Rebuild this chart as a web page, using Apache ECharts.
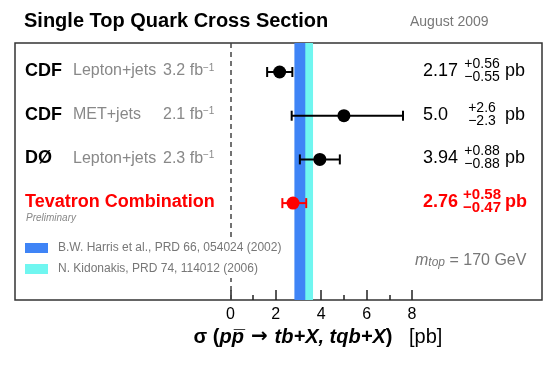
<!DOCTYPE html>
<html>
<head>
<meta charset="utf-8">
<script src="https://cdn.jsdelivr.net/npm/echarts@6/dist/echarts.min.js"></script>
<style>
  html, body { margin: 0; padding: 0; background: #fff; }
  #main { width: 556px; height: 365px; }
</style>
</head>
<body>
<div id="main"></div>
<script>
const FONT = 'Liberation Sans, Arial, Helvetica, sans-serif';

// measurements, top to bottom
const rowNames = ['CDF', 'CDF', 'DØ', 'Tevatron Combination'];
const channels = ['Lepton+jets', 'MET+jets', 'Lepton+jets', null];
const lumis = ['3.2', '2.1', '2.3', null];
const xsec = [2.17, 5.0, 3.94, 2.76];
const errUp = [0.56, 2.6, 0.88, 0.58];
const errDown = [0.55, 2.3, 0.88, 0.47];
const valueText = ['2.17', '5.0', '3.94', '2.76'];
const upText = ['+0.56', '+2.6', '+0.88', '+0.58'];
const downText = ['\u22120.55', '\u22122.3', '\u22120.88', '\u22120.47'];

// theory predictions (x ranges in pb)
const theoryNames = ['N. Kidonakis, PRD 74, 114012 (2006)', 'B.W. Harris et al., PRD 66, 054024 (2002)'];
const theoryLo = [3.0, 2.82];
const theoryHi = [3.64, 3.30];
const theoryColors = ['#70f6f0', '#3f84f6'];

const xTicks = [0, 2, 4, 6, 8];
const xMinorTicks = [1, 3, 5, 7];

const combined = 3; // index of the combination row
const rowColor = (i) => (i === combined ? '#ff0000' : '#000');

const chart = echarts.init(document.getElementById('main'), null, { renderer: 'canvas' });

const xMin = -9.48, xMax = 13.72;
const gridBox = { left: 15, right: 14, top: 43, bottom: 65 };

function axisX(gridIndex, ticks, len, labels) {
  return {
    type: 'value',
    gridIndex: gridIndex,
    min: xMin,
    max: xMax,
    position: 'bottom',
    axisLine: { show: false, onZero: false },
    splitLine: { show: false },
    axisTick: {
      show: true,
      inside: true,
      length: len,
      customValues: ticks,
      lineStyle: { color: '#222', width: 1.5 },
    },
    axisLabel: {
      show: labels,
      customValues: ticks,
      margin: 7,
      color: '#000',
      fontSize: 16,
      fontFamily: FONT,
    },
  };
}

const option = {
  animation: false,
  backgroundColor: '#fff',
  grid: [
    Object.assign({
      show: true,
      borderColor: '#333',
      borderWidth: 1.5,
      backgroundColor: 'transparent',
    }, gridBox),
    // twin grid only for the minor ticks
    Object.assign({ show: false }, gridBox),
  ],
  xAxis: [axisX(0, xTicks, 10, true), axisX(1, xMinorTicks, 5, false)],
  yAxis: [
    { type: 'value', gridIndex: 0, inverse: true, min: -0.664, max: 5.217, show: false },
    { type: 'value', gridIndex: 1, inverse: true, min: -0.664, max: 5.217, show: false },
  ],
  graphic: [
    {
      type: 'text', x: 24, y: 21,
      style: { text: 'Single Top Quark Cross Section', fontSize: 20, fontWeight: 'bold', fontFamily: FONT, fill: '#000', verticalAlign: 'middle' },
    },
    {
      type: 'text', x: 410, y: 22,
      style: { text: 'August 2009', fontSize: 14, fontFamily: FONT, fill: '#777', verticalAlign: 'middle' },
    },
    // white box behind the legend (cuts the dashed zero line)
    {
      type: 'rect', z: 10, silent: true,
      shape: { x: 20, y: 238, width: 262, height: 40 },
      style: { fill: '#fff' },
    },
    {
      type: 'rect', z: 11,
      shape: { x: 25, y: 243, width: 23, height: 10 },
      style: { fill: theoryColors[1] },
    },
    {
      type: 'text', z: 11, x: 58, y: 248,
      style: { text: theoryNames[1], fontSize: 12, fontFamily: FONT, fill: '#777', verticalAlign: 'middle' },
    },
    {
      type: 'rect', z: 11,
      shape: { x: 25, y: 264, width: 23, height: 10 },
      style: { fill: theoryColors[0] },
    },
    {
      type: 'text', z: 11, x: 58, y: 269,
      style: { text: theoryNames[0], fontSize: 12, fontFamily: FONT, fill: '#777', verticalAlign: 'middle' },
    },
    {
      type: 'text', z: 11, x: 415, y: 261,
      style: {
        text: '{m|m}{t|top}{n| = 170 GeV}',
        verticalAlign: 'middle',
        rich: {
          m: { fontSize: 16, fontStyle: 'italic', fontFamily: FONT, fill: '#777', verticalAlign: 'bottom' },
          t: { fontSize: 12, fontStyle: 'italic', fontFamily: FONT, fill: '#777', verticalAlign: 'bottom' },
          n: { fontSize: 16, fontFamily: FONT, fill: '#777', verticalAlign: 'bottom' },
        },
      },
    },
    {
      type: 'text', x: 318, y: 337,
      style: {
        text: '{b|\u03c3 (}{bi|p}{bi|p\u0305}{ar| \u2192 }{bi|tb+X, tqb+X}{b|)}{n|   [pb]}',
        align: 'center',
        verticalAlign: 'middle',
        rich: {
          b: { fontSize: 20, fontWeight: 'bold', fontFamily: FONT, fill: '#000', verticalAlign: 'middle' },
          bi: { fontSize: 20, fontWeight: 'bold', fontStyle: 'italic', fontFamily: FONT, fill: '#000', verticalAlign: 'middle' },
          ar: { fontSize: 20, fontWeight: 'bold', fontFamily: 'DejaVu Sans', fill: '#000', verticalAlign: 'middle' },
          n: { fontSize: 20, fontFamily: FONT, fill: '#000', verticalAlign: 'middle' },
        },
      },
    },
  ],
  series: [
    {
      // error bars + theory bands + zero line
      type: 'custom',
      silent: true,
      data: xsec.map((v, i) => [v - errDown[i], v + errUp[i], i]),
      encode: { x: [0, 1], y: 2 },
      renderItem: (params, api) => {
        const i = api.value(2);
        const a = api.coord([api.value(0), i]);
        const b = api.coord([api.value(1), i]);
        const style = { stroke: rowColor(i), lineWidth: 2 };
        return {
          type: 'group',
          children: [
            { type: 'line', shape: { x1: a[0], y1: a[1], x2: b[0], y2: b[1] }, style },
            { type: 'line', shape: { x1: a[0], y1: a[1] - 5, x2: a[0], y2: a[1] + 5 }, style },
            { type: 'line', shape: { x1: b[0], y1: b[1] - 5, x2: b[0], y2: b[1] + 5 }, style },
          ],
        };
      },
      markArea: {
        silent: true,
        data: theoryLo.map((lo, k) => [
          { xAxis: lo, itemStyle: { color: theoryColors[k], opacity: 1 } },
          { xAxis: theoryHi[k] },
        ]),
      },
      markLine: {
        silent: true,
        symbol: 'none',
        label: { show: false },
        lineStyle: { color: '#444', width: 1.5, type: [5, 4] },
        data: [{ xAxis: 0 }],
      },
    },
    {
      type: 'scatter',
      silent: true,
      symbol: 'circle',
      symbolSize: 13,
      z: 3,
      itemStyle: { opacity: 1 },
      data: xsec.map((v, i) => ({ value: [v, i], itemStyle: { color: rowColor(i), opacity: 1 } })),
    },
    {
      // row labels on the left and the numbers on the right
      type: 'custom',
      silent: true,
      data: xsec.map((v, i) => [0, i]),
      encode: { x: 0, y: 1 },
      renderItem: (params, api) => {
        const i = api.value(1);
        const y = api.coord([0, i])[1];
        const red = i === combined;
        const col = rowColor(i);
        const w = red ? 'bold' : 'normal';
        const kids = [
          {
            type: 'text', x: 25, y: y - 1,
            style: { text: rowNames[i], fontSize: 18, fontWeight: 'bold', fontFamily: FONT, fill: col, verticalAlign: 'middle' },
          },
          {
            type: 'text', x: 423, y: y - 1,
            style: { text: valueText[i], fontSize: 18, fontWeight: w, fontFamily: FONT, fill: col, verticalAlign: 'middle' },
          },
          {
            type: 'text', x: 482, y: y - 8,
            style: { text: upText[i], fontSize: red ? 15 : 14, fontWeight: w, fontFamily: FONT, fill: col, align: 'center', verticalAlign: 'middle' },
          },
          {
            type: 'text', x: 482, y: y + 5,
            style: { text: downText[i], fontSize: red ? 15 : 14, fontWeight: w, fontFamily: FONT, fill: col, align: 'center', verticalAlign: 'middle' },
          },
          {
            type: 'text', x: 505, y: y - 1,
            style: { text: 'pb', fontSize: 18, fontWeight: w, fontFamily: FONT, fill: col, verticalAlign: 'middle' },
          },
        ];
        if (channels[i]) {
          kids.push({
            type: 'text', x: 73, y: y - 1,
            style: { text: channels[i], fontSize: 16, fontFamily: FONT, fill: '#888', verticalAlign: 'middle' },
          });
          kids.push({
            type: 'text', x: 163, y: y - 1,
            style: {
              text: '{n|' + lumis[i] + ' fb}{s|\u22121}',
              verticalAlign: 'middle',
              rich: {
                n: { fontSize: 16, fontFamily: FONT, fill: '#888', verticalAlign: 'bottom' },
                s: { fontSize: 10, fontFamily: FONT, fill: '#888', verticalAlign: 'top' },
              },
            },
          });
        }
        if (red) {
          kids.push({
            type: 'text', x: 26, y: y + 15,
            style: { text: 'Preliminary', fontSize: 10, fontStyle: 'italic', fontFamily: FONT, fill: '#888', verticalAlign: 'middle' },
          });
        }
        return { type: 'group', children: kids };
      },
    },
  ],
};

chart.setOption(option);
</script>
</body>
</html>
